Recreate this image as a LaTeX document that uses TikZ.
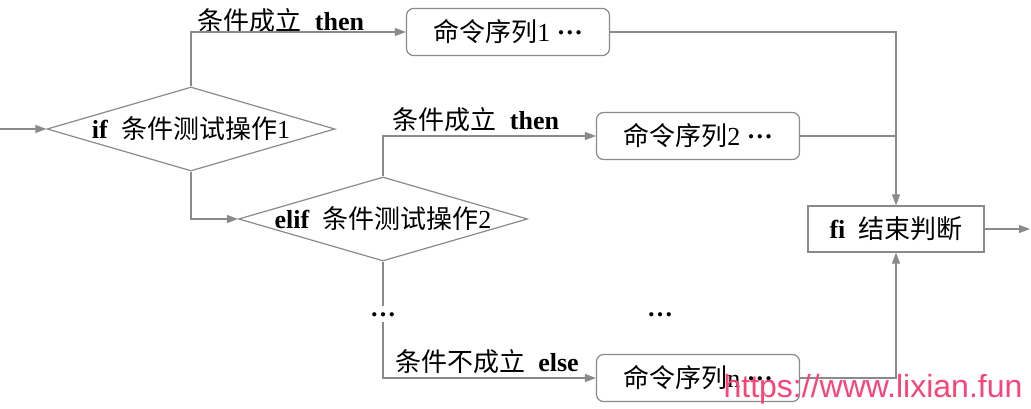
\documentclass[tikz,border=0pt]{standalone}
\usepackage{fontspec}
\setmainfont{Liberation Serif}
\newfontfamily\zhfont{Noto Sans CJK SC}
\newfontfamily\markfont{Liberation Sans}
\usetikzlibrary{shapes.geometric,arrows.meta}
\definecolor{linegray}{RGB}{138,138,138}
\definecolor{markpink}{RGB}{245,69,122}
\newcommand\zh[1]{{\zhfont #1}}
\newcommand\middots{\raisebox{7pt}{\textbf{…}}}

\begin{document}
\begin{tikzpicture}[x=1pt, y=-1pt,
  font=\fontsize{26}{30}\selectfont,
  testbox/.style={draw=linegray, line width=1.2pt, shape=diamond, aspect=3.4, inner sep=0pt, minimum width=288pt, minimum height=84pt},
  cmdbox/.style={draw=linegray, line width=1.2pt, rounded corners=7pt, minimum width=203pt, minimum height=47pt, inner sep=0pt},
  endbox/.style={draw=linegray, line width=1.2pt, minimum width=176pt, minimum height=46pt, inner sep=0pt},
  gap/.style={inner sep=6pt, text height=4pt, text depth=0pt},
  link/.style={draw=linegray, line width=1.2pt},
  flow/.style={link, -{Triangle[length=11pt, width=8pt]}}]
\useasboundingbox (0,0) rectangle (1031,409);

\node (test_if) [testbox] at (191,129) {\makebox[0pt]{\textbf{if}\ \ \zh{条件测试操作}1}};
\node (test_elif) [testbox, minimum width=289pt] at (383,219) {\makebox[0pt]{\textbf{elif}\ \ \zh{条件测试操作}2}};

\node (cmd_1) [cmdbox] at (508,32) {\zh{命令序列}1 \middots};
\node (cmd_2) [cmdbox] at (698,136) {\zh{命令序列}2 \middots};
\node (cmd_n) [cmdbox] at (698,378) {\zh{命令序列}n \middots};
\node (fi_end) [endbox] at (896,229) {\textbf{fi}\ \ \zh{结束判断}};

\node (then_1) at (281,21) {\zh{条件成立}\ \ \textbf{then}};
\node (then_2) at (476,120) {\zh{条件成立}\ \ \textbf{then}};
\node (else_n) at (487,362) {\zh{条件不成立}\ \ \textbf{else}};

\node (dots_elif) [gap] at (383,314) {\textbf{…}};
\node (dots_cmd) [gap] at (660,314) {\textbf{…}};

\coordinate (in) at (0,129);
\coordinate (out) at (1030,229);

\draw[flow] (in) -- (test_if.west);
\draw[flow] (test_if.north) |- (cmd_1.west);
\draw[flow] (test_if.south) |- (test_elif.west);

\draw[flow] (test_elif.north) |- (cmd_2.west);
\draw[link] (test_elif.south) -- (dots_elif.north);
\draw[flow] (dots_elif.south) |- (cmd_n.west);

\draw[flow] (cmd_1.east) -| (fi_end.north);
\draw[link] (cmd_2.east) -- (cmd_2.east -| fi_end.north);
\draw[flow] (cmd_n.east) -| (fi_end.south);
\draw[flow] (fi_end.east) -- (out);

\node (mark) [font=\markfont\fontsize{32}{36}\selectfont, text=markpink, anchor=base] at (873,397) {https://www.lixian.fun};
\end{tikzpicture}
\end{document}
